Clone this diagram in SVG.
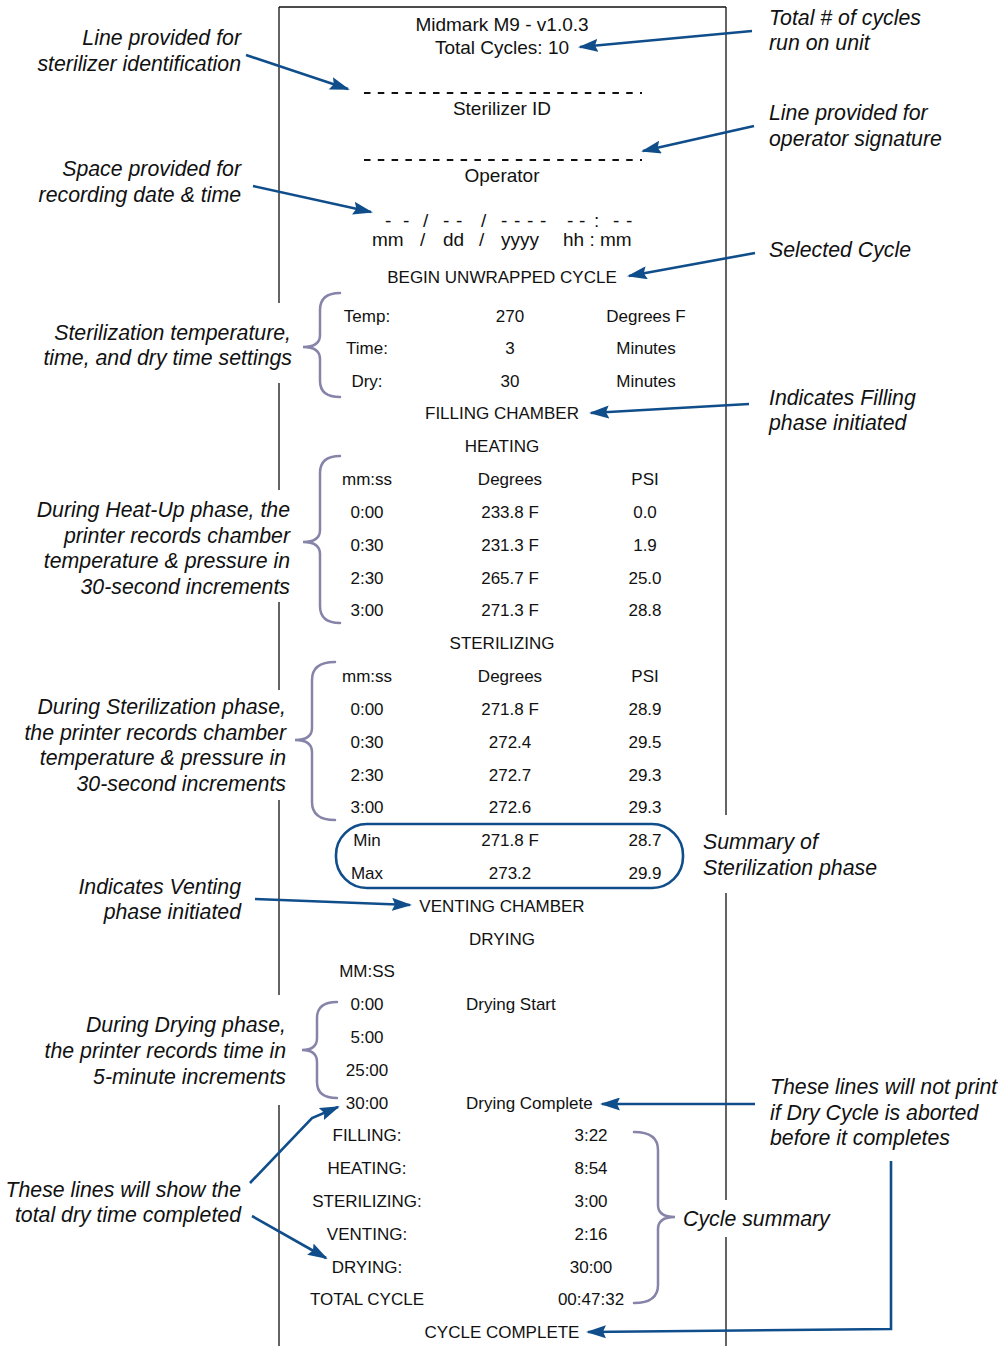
<svg xmlns="http://www.w3.org/2000/svg" width="1006" height="1346" viewBox="0 0 1006 1346">
<defs>
<style>
.p{font-family:"Liberation Sans",Arial,sans-serif;font-size:17px;fill:#111}
.h{font-family:"Liberation Sans",Arial,sans-serif;font-size:19px;fill:#111}
.c{text-anchor:middle}
.a{font-family:"Liberation Sans",Arial,sans-serif;font-size:21.3px;font-style:italic;fill:#111}
.r{text-anchor:end}
.paper{stroke:#111;stroke-width:1.3;fill:none}
.brace{stroke:#8784a9;stroke-width:2.5;fill:none;stroke-linecap:round}
.conn{stroke:#104e8b;stroke-width:2.6;fill:none}
.dash{stroke:#111;stroke-width:2;stroke-dasharray:6.5 7.3}
</style>
<marker id="ah" viewBox="0 0 20 13" markerWidth="20" markerHeight="13" refX="18" refY="6.5" orient="auto" markerUnits="userSpaceOnUse">
<path d="M0,0 L20,6.5 L0,13 L3,6.5 z" fill="#104e8b"/>
</marker>
</defs>
<rect width="1006" height="1346" fill="#fff"/>
<g id="paper" class="paper">
<path d="M279,7 H726"/>
<path d="M279,7 V303 M279,383 V490 M279,602 V690 M279,800 V995 M279,1105 V1346"/>
<path d="M726,7 V815 M726,893 V1200 M726,1237 V1346"/>
</g>
<g id="printout">
<text class="h c" x="502" y="31">Midmark M9 - v1.0.3</text>
<text class="h c" x="502" y="54">Total Cycles: 10</text>
<line class="dash" x1="364" y1="93" x2="642" y2="93"/>
<text class="h c" x="502" y="115">Sterilizer ID</text>
<line class="dash" x1="364" y1="160" x2="642" y2="160"/>
<text class="h c" x="502" y="182">Operator</text>
<text class="h" x="385 403 423 443 456 481 501 514 527 540 567 579 594 613 626" y="227">--/--/------:--</text>
<text class="h" x="372" y="246">mm</text>
<text class="h" x="420" y="246">/</text>
<text class="h" x="443" y="246">dd</text>
<text class="h" x="479" y="246">/</text>
<text class="h" x="501" y="246">yyyy</text>
<text class="h" x="563" y="246">hh : mm</text>
<text class="p c" x="502" y="283">BEGIN UNWRAPPED CYCLE</text>
<text class="p c" x="367" y="322">Temp:</text><text class="p c" x="510" y="322">270</text><text class="p c" x="646" y="322">Degrees F</text>
<text class="p c" x="367" y="354">Time:</text><text class="p c" x="510" y="354">3</text><text class="p c" x="646" y="354">Minutes</text>
<text class="p c" x="367" y="387">Dry:</text><text class="p c" x="510" y="387">30</text><text class="p c" x="646" y="387">Minutes</text>
<text class="p c" x="502" y="419">FILLING CHAMBER</text>
<text class="p c" x="502" y="452">HEATING</text>
<text class="p c" x="367" y="485">mm:ss</text><text class="p c" x="510" y="485">Degrees</text><text class="p c" x="645" y="485">PSI</text>
<text class="p c" x="367" y="518">0:00</text><text class="p c" x="510" y="518">233.8 F</text><text class="p c" x="645" y="518">0.0</text>
<text class="p c" x="367" y="551">0:30</text><text class="p c" x="510" y="551">231.3 F</text><text class="p c" x="645" y="551">1.9</text>
<text class="p c" x="367" y="584">2:30</text><text class="p c" x="510" y="584">265.7 F</text><text class="p c" x="645" y="584">25.0</text>
<text class="p c" x="367" y="616">3:00</text><text class="p c" x="510" y="616">271.3 F</text><text class="p c" x="645" y="616">28.8</text>
<text class="p c" x="502" y="649">STERILIZING</text>
<text class="p c" x="367" y="682">mm:ss</text><text class="p c" x="510" y="682">Degrees</text><text class="p c" x="645" y="682">PSI</text>
<text class="p c" x="367" y="715">0:00</text><text class="p c" x="510" y="715">271.8 F</text><text class="p c" x="645" y="715">28.9</text>
<text class="p c" x="367" y="748">0:30</text><text class="p c" x="510" y="748">272.4</text><text class="p c" x="645" y="748">29.5</text>
<text class="p c" x="367" y="781">2:30</text><text class="p c" x="510" y="781">272.7</text><text class="p c" x="645" y="781">29.3</text>
<text class="p c" x="367" y="813">3:00</text><text class="p c" x="510" y="813">272.6</text><text class="p c" x="645" y="813">29.3</text>
<text class="p c" x="367" y="846">Min</text><text class="p c" x="510" y="846">271.8 F</text><text class="p c" x="645" y="846">28.7</text>
<text class="p c" x="367" y="879">Max</text><text class="p c" x="510" y="879">273.2</text><text class="p c" x="645" y="879">29.9</text>
<text class="p c" x="502" y="912">VENTING CHAMBER</text>
<text class="p c" x="502" y="945">DRYING</text>
<text class="p c" x="367" y="977">MM:SS</text>
<text class="p c" x="367" y="1010">0:00</text><text class="p" x="466" y="1010">Drying Start</text>
<text class="p c" x="367" y="1043">5:00</text>
<text class="p c" x="367" y="1076">25:00</text>
<text class="p c" x="367" y="1109">30:00</text><text class="p" x="466" y="1109">Drying Complete</text>
<text class="p c" x="367" y="1141">FILLING:</text><text class="p c" x="591" y="1141">3:22</text>
<text class="p c" x="367" y="1174">HEATING:</text><text class="p c" x="591" y="1174">8:54</text>
<text class="p c" x="367" y="1207">STERILIZING:</text><text class="p c" x="591" y="1207">3:00</text>
<text class="p c" x="367" y="1240">VENTING:</text><text class="p c" x="591" y="1240">2:16</text>
<text class="p c" x="367" y="1273">DRYING:</text><text class="p c" x="591" y="1273">30:00</text>
<text class="p c" x="367" y="1305">TOTAL CYCLE</text><text class="p c" x="591" y="1305">00:47:32</text>
<text class="p c" x="502" y="1338">CYCLE COMPLETE</text>
</g>
<g id="summary-box"><rect x="336" y="824" width="347" height="64" rx="31" fill="none" stroke="#104e8b" stroke-width="2.6"/></g>
<g id="braces">
<path id="brace-settings" class="brace" d="M340,293 Q320,293 320,310 V335 Q320,347 303,347 Q320,347 320,359 V381 Q320,397 340,397"/>
<path id="brace-heating" class="brace" d="M340,456 Q320,456 320,473 V530 Q320,542 303,542 Q320,542 320,554 V606 Q320,623 340,623"/>
<path id="brace-sterilizing" class="brace" d="M335,662 Q312,662 312,680 V728 Q312,740 295,740 Q312,740 312,752 V802 Q312,820 335,820"/>
<path id="brace-drying" class="brace" d="M337,1002 Q317,1002 317,1018 V1038 Q317,1050 302,1050 Q317,1050 317,1062 V1082 Q317,1098 337,1098"/>
<path id="brace-summary" class="brace" d="M634,1132 Q658,1132 658,1150 V1205 Q658,1217 675,1217 Q658,1217 658,1229 V1285 Q658,1303 634,1303"/>
</g>
<g id="ann-sterilizer-id"><text class="a r" x="241" y="45">Line provided for</text><text class="a r" x="241" y="71">sterilizer identification</text></g>
<g id="ann-date"><text class="a r" x="241" y="176">Space provided for</text><text class="a r" x="241" y="202">recording date &amp; time</text></g>
<g id="ann-settings"><text class="a r" x="291" y="340">Sterilization temperature,</text><text class="a r" x="292" y="365">time, and dry time settings</text></g>
<g id="ann-heatup"><text class="a r" x="290" y="517">During Heat-Up phase, the</text><text class="a r" x="290" y="543">printer records chamber</text><text class="a r" x="290" y="568">temperature &amp; pressure in</text><text class="a r" x="290" y="594">30-second increments</text></g>
<g id="ann-sterilization"><text class="a r" x="286" y="714">During Sterilization phase,</text><text class="a r" x="286" y="740">the printer records chamber</text><text class="a r" x="286" y="765">temperature &amp; pressure in</text><text class="a r" x="286" y="791">30-second increments</text></g>
<g id="ann-venting"><text class="a r" x="241" y="894">Indicates Venting</text><text class="a r" x="241" y="919">phase initiated</text></g>
<g id="ann-drying"><text class="a r" x="286" y="1032">During Drying phase,</text><text class="a r" x="286" y="1058">the printer records time in</text><text class="a r" x="286" y="1084">5-minute increments</text></g>
<g id="ann-drytime"><text class="a r" x="241" y="1197">These lines will show the</text><text class="a r" x="241" y="1222">total dry time completed</text></g>
<g id="ann-total-cycles"><text class="a" x="769" y="25">Total # of cycles</text><text class="a" x="769" y="50">run on unit</text></g>
<g id="ann-operator"><text class="a" x="769" y="120">Line provided for</text><text class="a" x="769" y="146">operator signature</text></g>
<g id="ann-selected"><text class="a" x="769" y="257">Selected Cycle</text></g>
<g id="ann-filling"><text class="a" x="769" y="405">Indicates Filling</text><text class="a" x="769" y="430">phase initiated</text></g>
<g id="ann-summary"><text class="a" x="703" y="849">Summary of</text><text class="a" x="703" y="875">Sterilization phase</text></g>
<g id="ann-not-print"><text class="a" x="770" y="1094">These lines will not print</text><text class="a" x="770" y="1120">if Dry Cycle is aborted</text><text class="a" x="770" y="1145">before it completes</text></g>
<g id="ann-cycle-summary"><text class="a" x="683" y="1226">Cycle summary</text></g>
<g id="connectors" class="conn">
<path marker-end="url(#ah)" d="M752,31 L580,47"/>
<path marker-end="url(#ah)" d="M246,55 L348,89"/>
<path marker-end="url(#ah)" d="M754,126 L643,151"/>
<path marker-end="url(#ah)" d="M253,186 L371,212"/>
<path marker-end="url(#ah)" d="M755,253 L629,276"/>
<path marker-end="url(#ah)" d="M749,404 L591,413"/>
<path marker-end="url(#ah)" d="M255,899 L410,905"/>
<path marker-end="url(#ah)" d="M755,1104 L602,1104"/>
<path marker-end="url(#ah)" d="M891,1161 V1329 L588,1332"/>
<path marker-end="url(#ah)" d="M250,1183 L312,1118 L338,1107"/>
<path marker-end="url(#ah)" d="M252,1216 L326,1258"/>
</g>
</svg>
